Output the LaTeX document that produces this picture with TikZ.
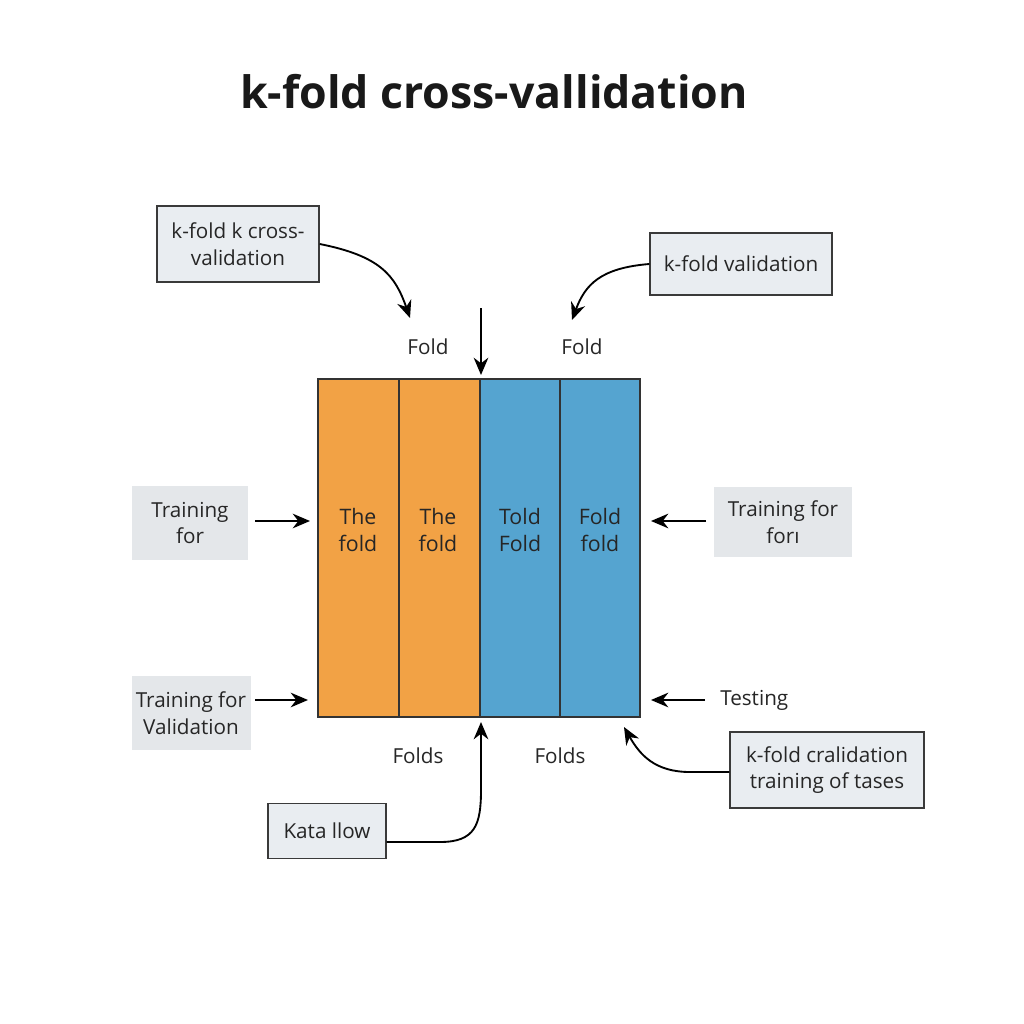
\documentclass[tikz,border=0pt]{standalone}
\usepackage{fontspec}
\setmainfont{Open Sans}
\usetikzlibrary{arrows.meta}
\definecolor{orangefold}{HTML}{F2A245}
\definecolor{bluefold}{HTML}{55A4D0}
\definecolor{boxfill}{HTML}{E9EDF1}
\definecolor{plainfill}{HTML}{E4E7EA}
\definecolor{edge}{HTML}{3A3A3A}
\begin{document}
\begin{tikzpicture}[x=0.75pt,y=-0.75pt,
  txt/.style={font=\fontsize{15.5}{20}\selectfont, text=black!85, align=center, inner sep=0pt},
  framed/.style={txt, draw=edge, line width=1pt, fill=boxfill, minimum width=#1},
  plain/.style={txt, fill=plainfill, minimum width=#1},
  arr/.style={line width=1.4pt, -{Stealth[length=13pt,width=11pt]}},
  foldcol/.style={draw=black!80, line width=1.2pt, fill=#1}
]
\useasboundingbox (0,0) rectangle (1024,1024);
\fill[white] (0,0) rectangle (1024,1024);

% title
\node[font=\bfseries\fontsize{33.5}{38}\selectfont, text=black!90] (title) at (494,92) {k-fold cross-vallidation};

% folds
\path[foldcol=orangefold] (318,379) rectangle (399,717);
\path[foldcol=orangefold] (399,379) rectangle (480,717);
\path[foldcol=bluefold] (480,379) rectangle (560,717);
\path[foldcol=bluefold] (560,379) rectangle (640,717);
\node[txt, font=\fontsize{16}{20.5}\selectfont] (f1) at (358,530) {The\\fold};
\node[txt, font=\fontsize{16}{20.5}\selectfont] (f2) at (438,530) {The\\fold};
\node[txt, font=\fontsize{16}{20.5}\selectfont] (f3) at (520,530) {Told\\Fold};
\node[txt, font=\fontsize{16}{20.5}\selectfont] (f4) at (600,530) {Fold\\fold};
\coordinate (mtop) at (481,375);
\coordinate (mbot) at (481,722);
\coordinate (mbr) at (624,727);
\coordinate (ml1) at (310,521);
\coordinate (ml2) at (308,700);
\coordinate (mr1) at (651,521);
\coordinate (mr2) at (651,700);

% top labels
\node[framed=162pt*0.75, minimum height=57pt] (b1) at (238,244) {k-fold k cross-\\validation};
\node[framed=182pt*0.75, minimum height=46.5pt] (b2) at (741,264) {k-fold validation};
\node[txt] (fold1) at (428,347) {Fold};
\node[txt] (fold2) at (582,347) {Fold};
\coordinate (dtop) at (481,308);
\coordinate (c1) at (410,318);
\coordinate (c2) at (572,320);

\draw[arr] (b1.east) .. controls (380,256) and (395,275) .. (c1);
\draw[arr] (b2.west) .. controls (600,268) and (585,285) .. (c2);
\draw[arr] (dtop) -- (mtop);

% side labels
\node[plain=116pt*0.75, minimum height=55pt] (l1) at (190,523) {Training\\for};
\node[plain=138pt*0.75, minimum height=53pt] (r1) at (783,522) {Training for\\forı};
\node[plain=119pt*0.75, minimum height=55pt] (l2) at (191,713) {Training for\\Validation};
\node[txt, anchor=west] (test) at (720,700) {Testing};
\coordinate (l1a) at (255,521);
\coordinate (r1a) at (706,521);
\coordinate (l2a) at (255,700);
\coordinate (ta) at (705,700);
\draw[arr] (l1a) -- (ml1);
\draw[arr] (r1a) -- (mr1);
\draw[arr] (l2a) -- (ml2);
\draw[arr] (ta) -- (mr2);

% bottom
\node[txt] (folds1) at (418,756) {Folds};
\node[txt] (folds2) at (560,756) {Folds};
\node[framed=118pt*0.75, minimum height=41pt] (b3) at (327,831) {Kata llow};
\node[framed=194pt*0.75, minimum height=57pt] (b4) at (827,770) {k-fold cralidation\\training of tases};
\draw[arr] (b3.east |- 0,842) -- (440,842) .. controls (475,842) and (481,825) .. (481,790) -- (mbot);
\draw[arr] (b4.west |- 0,772) -- (690,772) .. controls (655,772) and (640,755) .. (mbr);
\end{tikzpicture}
\end{document}
